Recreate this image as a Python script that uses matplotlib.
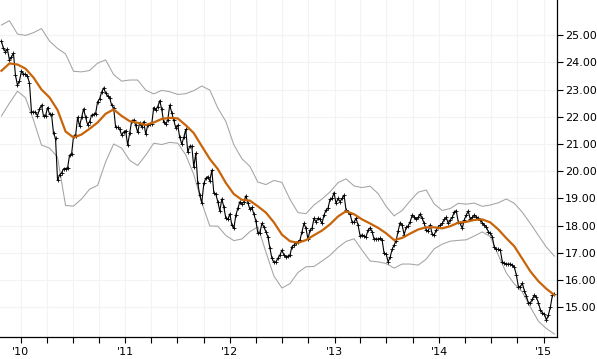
import pandas as pd
import matplotlib
matplotlib.use('Agg')
import matplotlib.pyplot as plt
import matplotlib.dates as mdates
from matplotlib.ticker import FormatStrFormatter

# weekly closes
price = [
    24.78, 24.51, 24.39, 24.48, 24.08, 24.20, 24.33, 23.53, 23.16, 23.32,
    23.68, 23.57, 23.56, 23.50, 23.23, 22.18, 22.18, 22.16, 22.04, 22.28,
    22.43, 22.03, 22.03, 22.34, 22.10, 22.09, 21.39, 21.21, 19.67, 19.86,
    19.94, 20.09, 20.10, 20.11, 20.59, 20.62, 21.29, 21.29, 21.98, 21.66,
    21.98, 22.29, 21.98, 21.71, 21.82, 22.06, 22.09, 22.12, 22.55, 22.66,
    22.90, 23.06, 22.88, 22.76, 22.70, 22.43, 22.33, 21.61, 21.61, 21.54,
    21.33, 21.44, 21.49, 20.96, 21.41, 21.84, 21.88, 21.69, 21.43, 21.78,
    21.63, 21.82, 21.36, 21.69, 21.72, 21.72, 22.34, 22.25, 22.37, 22.59,
    22.28, 21.79, 21.72, 21.88, 22.43, 22.15, 21.88, 21.60, 21.69, 21.24,
    21.00, 21.24, 21.54, 20.71, 20.92, 20.92, 20.16, 20.66, 19.55, 19.12,
    18.84, 19.55, 19.74, 19.80, 19.65, 20.04, 19.21, 19.16, 18.88, 18.54,
    18.98, 18.69, 18.27, 18.23, 18.43, 18.02, 17.90, 18.39, 18.64, 18.88,
    18.79, 18.88, 19.09, 18.84, 18.60, 18.67, 18.42, 18.17, 17.72, 17.74,
    18.08, 17.96, 17.78, 17.59, 17.17, 16.80, 16.65, 16.67, 16.80, 16.92,
    17.10, 16.92, 16.86, 16.88, 16.92, 17.23, 17.29, 17.35, 17.41, 17.47,
    17.78, 18.08, 17.90, 17.50, 17.84, 17.90, 18.27, 18.14, 18.27, 18.23,
    18.08, 18.39, 18.57, 18.64, 18.97, 19.00, 19.21, 18.82, 19.00, 18.88,
    19.00, 19.12, 18.57, 18.51, 18.43, 18.14, 18.12, 18.27, 18.02, 17.63,
    17.66, 17.62, 17.59, 17.84, 17.92, 17.78, 17.50, 17.52, 17.50, 17.53,
    17.47, 16.98, 16.96, 16.67, 16.84, 17.13, 17.29, 17.45, 17.81, 18.11,
    18.02, 17.66, 17.94, 17.99, 18.14, 18.39, 18.33, 18.23, 18.30, 18.43,
    18.27, 18.08, 17.84, 17.80, 18.02, 17.68, 17.66, 17.84, 17.96, 18.02,
    18.08, 18.23, 18.30, 18.08, 18.21, 18.30, 18.51, 18.55, 18.14, 18.08,
    17.90, 18.21, 18.39, 18.54, 18.23, 18.30, 18.39, 18.33, 18.27, 18.21,
    18.11, 18.02, 17.96, 17.78, 17.72, 17.59, 17.20, 17.13, 17.13, 17.10,
    16.67, 16.62, 16.59, 16.59, 16.59, 16.55, 16.47, 16.19, 15.76, 15.76,
    15.88, 15.61, 15.41, 15.17, 15.17, 15.29, 15.45, 15.37, 15.17, 14.90,
    14.80, 14.75, 14.53, 14.72, 15.02, 15.45, 15.49,
]

# moving average and bands, one value every 4 weeks
ma = [
    23.69, 23.96, 23.92, 23.77, 23.44, 23.00, 22.71, 22.25, 21.46, 21.24,
    21.35, 21.56, 21.79, 22.11, 22.27, 22.03, 21.84, 21.78, 21.70, 21.79,
    21.92, 21.96, 21.94, 21.69, 21.40, 20.92, 20.45, 20.08, 19.57, 19.16,
    18.95, 18.92, 18.71, 18.48, 18.12, 17.67, 17.43, 17.37, 17.47, 17.65,
    17.82, 18.05, 18.34, 18.53, 18.42, 18.23, 18.08, 17.92, 17.72, 17.47,
    17.55, 17.71, 17.86, 17.94, 17.94, 17.90, 17.98, 18.11, 18.14, 18.21,
    18.23, 18.12, 17.86, 17.54, 17.24, 16.78, 16.32, 15.96, 15.68, 15.45,
]
upper = [
    25.37, 25.53, 25.04, 24.99, 25.09, 25.24, 24.78, 24.51, 24.31, 23.67,
    23.65, 23.70, 23.97, 24.09, 23.55, 23.31, 23.35, 23.35, 22.98, 22.84,
    22.97, 22.92, 22.82, 22.85, 22.96, 23.13, 22.98, 22.32, 21.83, 20.97,
    20.46, 20.18, 19.60, 19.51, 19.66, 19.59, 18.97, 18.48, 18.44, 18.76,
    18.98, 19.24, 19.58, 19.72, 19.46, 19.40, 19.45, 19.18, 18.71, 18.36,
    18.56, 18.91, 19.23, 19.31, 18.80, 18.56, 18.63, 18.82, 18.79, 18.83,
    18.71, 18.76, 18.84, 18.98, 18.82, 18.49, 18.08, 17.64, 17.21, 16.88,
]
lower = [
    22.03, 22.50, 22.94, 22.70, 21.88, 20.96, 20.85, 20.52, 18.74, 18.72,
    18.98, 19.34, 19.48, 20.34, 21.00, 20.85, 20.40, 20.21, 20.59, 21.03,
    20.98, 21.06, 21.03, 20.60, 19.88, 18.84, 17.99, 17.98, 17.64, 17.45,
    17.51, 17.78, 17.96, 17.03, 16.15, 15.71, 15.87, 16.28, 16.49, 16.50,
    16.70, 16.91, 17.20, 17.42, 17.52, 17.10, 16.70, 16.67, 16.61, 16.44,
    16.59, 16.59, 16.55, 16.77, 17.15, 17.32, 17.43, 17.46, 17.48, 17.62,
    17.77, 17.60, 16.92, 16.26, 15.86, 15.56, 15.01, 14.49, 14.22, 14.02,
]
y_ticks = [15, 16, 17, 18, 19, 20, 21, 22, 23, 24, 25]

dates = pd.date_range('2009-10-25', periods=len(price), freq='7D')
band_dates = pd.date_range('2009-10-25', periods=len(ma), freq='28D')

fig = plt.figure(figsize=(5.97, 3.59), dpi=100)
ax = fig.add_axes([0, 22 / 359, 557 / 597, 337 / 359])

ax.plot(band_dates, upper, color='#a3a3a3', lw=0.75)
ax.plot(band_dates, lower, color='#a3a3a3', lw=0.75)
ax.plot(dates, price, color='black', lw=0.8, marker='+', ms=3, mew=0.6)
ax.plot(band_dates, ma, color='#c8640a', lw=1.6)

ax.set_xlim(pd.Timestamp('2009-10-20'), pd.Timestamp('2015-02-17'))
ax.set_ylim(13.91, 26.29)

# axis styling
ax.yaxis.tick_right()
ax.set_yticks(y_ticks)
ax.yaxis.set_major_formatter(FormatStrFormatter('%.2f'))
ax.xaxis.set_major_locator(mdates.YearLocator())
ax.xaxis.set_major_formatter(mdates.DateFormatter("'%y"))
ax.xaxis.set_minor_locator(mdates.MonthLocator(bymonth=[1, 4, 7, 10]))
ax.tick_params(axis='both', which='both', direction='out', length=4, width=0.8,
               labelsize=8, colors='black')
ax.tick_params(axis='x', pad=3)
ax.tick_params(axis='y', pad=1.5)

for side in ['top', 'left']:
    ax.spines[side].set_visible(False)
ax.spines['right'].set_linewidth(0.9)
ax.spines['bottom'].set_linewidth(0.9)

ax.grid(True, which='both', axis='x', color='#f3f3f3', lw=0.8)
ax.grid(True, which='major', axis='y', color='#f3f3f3', lw=0.8)
ax.set_axisbelow(True)

plt.savefig('out.png', dpi=100)
